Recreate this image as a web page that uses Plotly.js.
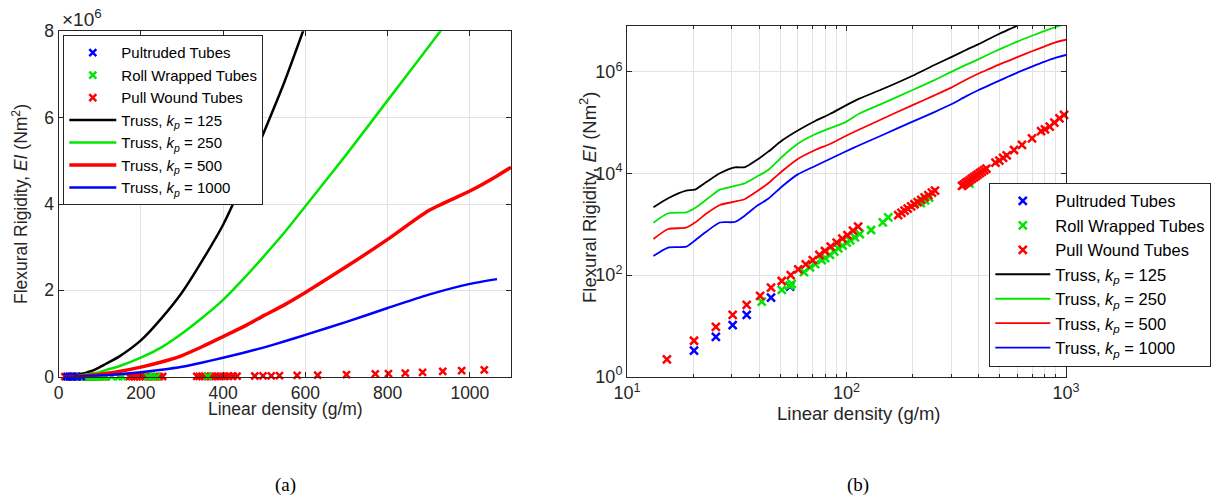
<!DOCTYPE html>
<html><head><meta charset="utf-8">
<script src="https://cdn.plot.ly/plotly-3.0.1.min.js"></script>
<style>html,body{margin:0;padding:0;background:#fff}#chart{width:1222px;height:499px}</style>
</head><body><div id="chart"></div>
<script>
// ---- data ----
const xTruss = [13.2, 15.4, 18.6, 20.4, 23.1, 26.5, 31, 34.5, 39, 44, 51, 60, 72, 84, 98, 115, 147, 200, 250, 300, 350, 400, 450, 500, 550, 600, 700, 800, 900, 1000, 1066, 1100];
const eiKp125 = [2160, 3250, 4590, 4820, 6900, 10100, 13200, 13300, 18400, 26900, 45000, 70200, 108000, 148000, 212000, 300000, 465000, 840000, 1350000, 1950000, 2700000, 3520000, 4550000, 5680000, 6850000, 8150000, 10800000, null, null, null, null, null];
const eiKp250 = [1075, 1650, 1720, 2090, 3100, 4800, 5680, 6420, 8650, 11700, 21600, 38600, 59100, 77600, 100000, 153000, 242000, 440000, 680000, 1000000, 1370000, 1780000, 2270000, 2800000, 3350000, 3950000, 5150000, 6400000, 7650000, 8900000, null, null];
const eiKp500 = [514, 808, 857, 1080, 1650, 2400, 2790, 3150, 4420, 6410, 11200, 19300, 29000, 38100, 53500, 74200, 121000, 222000, 341000, 490000, 700000, 930000, 1160000, 1420000, 1670000, 1950000, 2550000, 3180000, 3850000, 4300000, 4650000, 4850000];
const eiKp1000 = [238, 349, 362, 480, 728, 1085, 1110, 1490, 2290, 3180, 5620, 9600, 14060, 19300, 26500, 36400, 58000, 105000, 160000, 230000, 330000, 440000, 555000, 680000, 820000, 970000, 1270000, 1590000, 1900000, 2150000, 2260000, null];

const xPultruded = [20.2, 25.4, 30.3, 35.1, 45.3, 55.3];
const eiPultruded = [3.25, 6.1, 10.4, 16.4, 35.9, 59];

const xRollWrapped = [41.1, 50.7, 55, 56.3, 64, 68.2, 72, 77.1, 80, 84.1, 88, 91.8, 96, 100.3, 104, 109.3, 115, 129.4, 146.3, 155, 218, 228, 238, 363];
const eiRollWrapped = [30, 50.9, 62, 66.8, 115, 142, 165, 198, 215, 249, 290, 337, 380, 434, 480, 555, 640, 772, 1094, 1374, 2600, 2950, 3350, 6300];

const xPullWound = [15.2, 20.2, 25.4, 30.3, 35.1, 40.4, 45.3, 50.7, 55.7, 60.3, 65.2, 70.2, 75.2, 79.8, 84.7, 90.2, 95.7, 101, 107, 113, 172, 178, 184, 190, 197, 204, 211, 219, 227, 236, 245, 253, 336, 342, 349, 356, 364, 372, 380, 388, 396, 405, 414, 424, 434, 477, 497, 517, 537, 580, 630, 700, 770, 802, 843, 885, 934, 980, 1035];
const eiPullWound = [2.2, 5.1, 9.6, 16.4, 25.8, 38.8, 56.5, 76.5, 100, 130, 163, 198, 249, 298, 362, 434, 521, 615, 748, 897, 1520, 1680, 1850, 2030, 2250, 2480, 2730, 3040, 3370, 3770, 4190, 4600, 5730, 6050, 6430, 6830, 7310, 7820, 8340, 8890, 9460, 10130, 10830, 11650, 12510, 16300, 18000, 20300, 22800, 29000, 36400, 49300, 68000, 74000, 83400, 100000, 122000, 142000, 160000];

const linTicks = [0, 200, 400, 600, 800, 1000];
const linYTicks = [0, 2e6, 4e6, 6e6, 8e6];
const linYText = ['0', '2', '4', '6', '8'];
const logXTicks = [10, 100, 1000];
const logXText = ['10<sup>1</sup>', '10<sup>2</sup>', '10<sup>3</sup>'];
const logXMinor = [20, 30, 40, 50, 60, 70, 80, 90, 200, 300, 400, 500, 600, 700, 800, 900];
const logYTicks = [1, 100, 1e4, 1e6];
const logYText = ['10<sup>0</sup>', '10<sup>2</sup>', '10<sup>4</sup>', '10<sup>6</sup>'];

const names = {
  pul: 'Pultruded Tubes', roll: 'Roll Wrapped Tubes', pw: 'Pull Wound Tubes',
  k125: 'Truss, <i>k<sub>p</sub></i> = 125', k250: 'Truss, <i>k<sub>p</sub></i> = 250',
  k500: 'Truss, <i>k<sub>p</sub></i> = 500', k1000: 'Truss, <i>k<sub>p</sub></i> = 1000'
};
const C = {blue: '#0000ff', green: '#00e600', red: '#ff0000', black: '#000000', axis: '#262626', grid: '#e2e2e2'};
const FONT = 'Liberation Sans, Arial, sans-serif';

function mk(x, y, name, color, rank, xa, ya, leg, size) {
  return {x, y, name, type: 'scatter', mode: 'markers', xaxis: xa, yaxis: ya, legend: leg, legendrank: rank,
    cliponaxis: false,
    marker: {symbol: 'x-thin', size: size, color: color, line: {width: 2.5, color: color}}};
}
function ln(y, name, color, rank, xa, ya, leg, w) {
  return {x: xTruss, y: y, name, type: 'scatter', mode: 'lines', xaxis: xa, yaxis: ya, legend: leg, legendrank: rank,
    line: {color: color, width: w, shape: 'spline', smoothing: 0.6}};
}

const traces = [
  // left (linear)
  mk(xPullWound, eiPullWound, names.pw, C.red, 3, 'x', 'y', 'legend', 7),
  mk(xRollWrapped, eiRollWrapped, names.roll, C.green, 2, 'x', 'y', 'legend', 7),
  mk(xPultruded, eiPultruded, names.pul, C.blue, 1, 'x', 'y', 'legend', 7),
  ln(eiKp125, names.k125, C.black, 4, 'x', 'y', 'legend', 2.5),
  ln(eiKp250, names.k250, C.green, 5, 'x', 'y', 'legend', 2.5),
  ln(eiKp500, names.k500, C.red, 6, 'x', 'y', 'legend', 3.5),
  ln(eiKp1000, names.k1000, C.blue, 7, 'x', 'y', 'legend', 2.5),
  // right (log-log)
  mk(xPultruded, eiPultruded, names.pul, C.blue, 1, 'x2', 'y2', 'legend2', 8),
  mk(xRollWrapped, eiRollWrapped, names.roll, C.green, 2, 'x2', 'y2', 'legend2', 8),
  mk(xPullWound, eiPullWound, names.pw, C.red, 3, 'x2', 'y2', 'legend2', 8),
  ln(eiKp125, names.k125, C.black, 4, 'x2', 'y2', 'legend2', 1.8),
  ln(eiKp250, names.k250, C.green, 5, 'x2', 'y2', 'legend2', 1.8),
  ln(eiKp500, names.k500, C.red, 6, 'x2', 'y2', 'legend2', 1.8),
  ln(eiKp1000, names.k1000, C.blue, 7, 'x2', 'y2', 'legend2', 1.8)
];

function axisBase(size) {
  return {showgrid: true, gridcolor: C.grid, gridwidth: 1, showline: true, linecolor: C.axis, linewidth: 1,
    mirror: 'ticks', ticks: 'inside', ticklen: 5, tickcolor: C.axis, zeroline: false, fixedrange: true,
    tickfont: {family: FONT, size: size, color: C.axis}};
}
const W = 1222, H = 499;
const px = v => v / W, py = v => (H - v) / H;

function note(text, x, y, size, angle, family, color) {
  return {text: text, x: px(x), y: py(y), xref: 'paper', yref: 'paper', xanchor: 'center', yanchor: 'middle',
    textangle: angle || 0, showarrow: false, font: {family: family || FONT, size: size, color: color || C.axis}};
}

const layout = {
  width: W, height: H, margin: {l: 0, r: 0, t: 0, b: 0}, paper_bgcolor: '#fff', plot_bgcolor: '#fff',
  showlegend: true,
  xaxis: Object.assign(axisBase(17.5), {domain: [px(58.6), px(511)], range: [0, 1100], tickmode: 'array', tickvals: linTicks, anchor: 'y'}),
  yaxis: Object.assign(axisBase(17.5), {domain: [py(376.7), py(31.3)], range: [0, 8e6], tickmode: 'array', tickvals: linYTicks, ticktext: linYText, anchor: 'x'}),
  xaxis2: Object.assign(axisBase(18), {domain: [px(627), px(1066)], type: 'log', range: [1, 3], tickmode: 'array', tickvals: logXTicks, ticktext: logXText, anchor: 'y2',
    minor: {tickmode: 'array', tickvals: logXMinor, showgrid: true, gridcolor: C.grid, ticks: 'inside', ticklen: 3, tickcolor: C.axis}}),
  yaxis2: Object.assign(axisBase(18), {domain: [py(376.7), py(26)], type: 'log', range: [0, Math.log10(8e6)], tickmode: 'array', tickvals: logYTicks, ticktext: logYText, anchor: 'x2'}),
  legend: {x: px(63.3), y: py(35.3), xanchor: 'left', yanchor: 'top', bgcolor: '#fff', bordercolor: C.axis, borderwidth: 1,
    font: {family: FONT, size: 15, color: '#000'}, itemwidth: 47, tracegroupgap: 0, traceorder: 'normal', itemclick: false, itemdoubleclick: false},
  legend2: {x: px(989.3), y: py(182.7), xanchor: 'left', yanchor: 'top', bgcolor: '#fff', bordercolor: C.axis, borderwidth: 1,
    font: {family: FONT, size: 16.5, color: '#000'}, itemwidth: 55, tracegroupgap: 0, traceorder: 'normal', itemclick: false, itemdoubleclick: false},
  annotations: [
    Object.assign(note('×10<sup>6</sup>', 60, 18, 19), {xanchor: 'left'}),
    note('Flexural Rigidity, <i>EI</i> (Nm<sup>2</sup>)', 20, 204, 17.5, -90),
    note('Linear density (g/m)', 285, 409, 17.5),
    note('Flexural Rigidity, <i>EI</i> (Nm<sup>2</sup>)', 588, 198, 18.5, -90),
    note('Linear density (g/m)', 858, 413, 18.5),
    note('(a)', 285, 485, 19, 0, 'Liberation Serif, Times New Roman, serif', '#000'),
    note('(b)', 858, 485, 19, 0, 'Liberation Serif, Times New Roman, serif', '#000')
  ]
};

Plotly.newPlot('chart', traces, layout, {staticPlot: true, displayModeBar: false});
</script>
</body></html>
